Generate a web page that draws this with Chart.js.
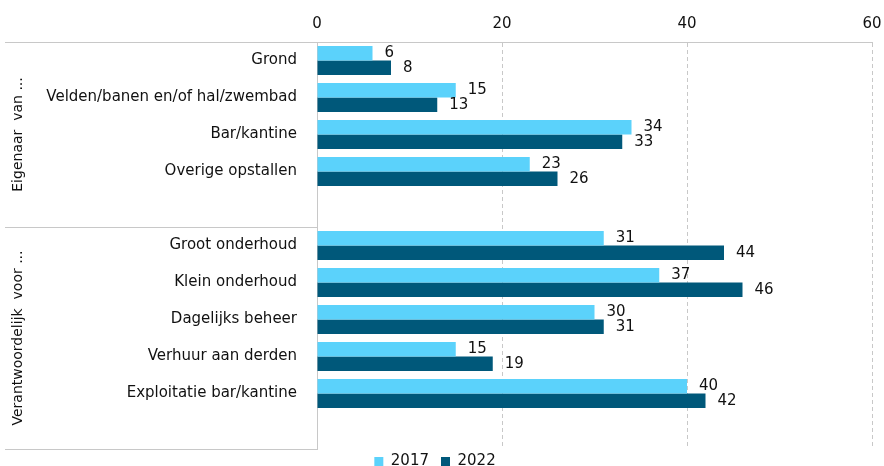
<!DOCTYPE html>
<html lang="nl">
<head>
<meta charset="UTF-8">
<title>Eigenaar en verantwoordelijk</title>
<script src="https://cdn.jsdelivr.net/npm/chart.js"></script>
<style>
  html, body { margin: 0; padding: 0; background: #fff; }
  #wrap { width: 884px; height: 466px; }
</style>
</head>
<body>
<div id="wrap"><canvas id="chart"></canvas></div>
<script>
// categorieen (lege regels scheiden de twee groepen)
const categories = ['Grond', 'Velden/banen en/of hal/zwembad', 'Bar/kantine', 'Overige opstallen', '',
  'Groot onderhoud', 'Klein onderhoud', 'Dagelijks beheer', 'Verhuur aan derden', 'Exploitatie bar/kantine', ''];
const values2017 = [6, 15, 34, 23, null, 31, 37, 30, 15, 40, null];
const values2022 = [8, 13, 33, 26, null, 44, 46, 31, 19, 42, null];
const xTicks = [0, 20, 40, 60];
const groupNames = ['Eigenaar  van ...', 'Verantwoordelijk  voor ...'];
const groupRanges = [[0, 4], [5, 10]];

const FONT = '"DejaVu Sans", Verdana, sans-serif';
const GRID = '#c8c8c8';

// waarden achter de balken
const valueLabels = {
  id: 'valueLabels',
  afterDatasetsDraw(chart) {
    const ctx = chart.ctx;
    ctx.save();
    ctx.font = '15px ' + FONT;
    ctx.fillStyle = '#111';
    ctx.textBaseline = 'middle';
    chart.data.datasets.forEach((ds, i) => {
      chart.getDatasetMeta(i).data.forEach((bar, j) => {
        if (ds.data[j] == null) return;
        ctx.fillText(String(ds.data[j]), bar.x + 12, bar.y);
      });
    });
    ctx.restore();
  }
};

// groepslabels links met scheidingslijnen
const groupLabels = {
  id: 'groupLabels',
  afterLayout(chart) {
    // legenda iets hoger zetten, zoals in het origineel
    const lg = chart.legend;
    lg.top = 442;
    lg.bottom = 466;
    lg.left -= 1;
    lg.right -= 1;
  },
  afterDraw(chart) {
    const ctx = chart.ctx;
    const y = chart.scales.y;
    const left = chart.chartArea.left;
    const half = (y.getPixelForValue(1) - y.getPixelForValue(0)) / 2;
    ctx.save();
    ctx.strokeStyle = GRID;
    ctx.lineWidth = 1;
    groupRanges.forEach((r, i) => {
      const top = y.getPixelForValue(r[0]) - half;
      const bottom = y.getPixelForValue(r[1]) + half;
      ctx.beginPath();
      ctx.moveTo(5, Math.round(top) + 0.5);
      ctx.lineTo(left, Math.round(top) + 0.5);
      ctx.moveTo(5, Math.round(bottom) + 0.5);
      ctx.lineTo(left, Math.round(bottom) + 0.5);
      ctx.stroke();
      ctx.save();
      ctx.translate(18, (top + bottom) / 2);
      ctx.rotate(-Math.PI / 2);
      ctx.font = '14px ' + FONT;
      ctx.fillStyle = '#111';
      ctx.textAlign = 'center';
      ctx.textBaseline = 'middle';
      ctx.fillText(groupNames[i], 0, 0);
      ctx.restore();
    });
    ctx.restore();
  }
};

new Chart(document.getElementById('chart'), {
  type: 'bar',
  data: {
    labels: categories,
    datasets: [
      { label: '2017', data: values2017, backgroundColor: '#5bd2fb', categoryPercentage: 0.78, barPercentage: 1 },
      { label: '2022', data: values2022, backgroundColor: '#00587a', categoryPercentage: 0.78, barPercentage: 1 }
    ]
  },
  options: {
    indexAxis: 'y',
    responsive: true,
    maintainAspectRatio: false,
    animation: false,
    layout: { autoPadding: false, padding: { left: 0, right: 12, top: 0, bottom: 3 } },
    scales: {
      x: {
        position: 'top',
        min: 0,
        max: 60,
        afterBuildTicks: s => { s.ticks = xTicks.map(v => ({ value: v })); },
        afterFit: s => { s.height = 42; s.paddingLeft = 0; s.paddingRight = 0; },
        ticks: { font: { family: FONT, size: 15 }, color: '#111', padding: 9 },
        grid: { color: GRID, drawTicks: false },
        border: { color: GRID, dash: [4, 3] }
      },
      y: {
        afterFit: s => { s.width = 317; s.paddingTop = 0; s.paddingBottom = 0; },
        ticks: { font: { family: FONT, size: 15 }, color: '#111', padding: 12 },
        grid: { display: false },
        border: { color: GRID }
      }
    },
    plugins: {
      legend: {
        position: 'bottom',
        maxHeight: 14,
        labels: { boxWidth: 9, boxHeight: 9, padding: 12, font: { family: FONT, size: 15 }, color: '#111' }
      },
      tooltip: { enabled: false }
    }
  },
  plugins: [valueLabels, groupLabels]
});
</script>
</body>
</html>
